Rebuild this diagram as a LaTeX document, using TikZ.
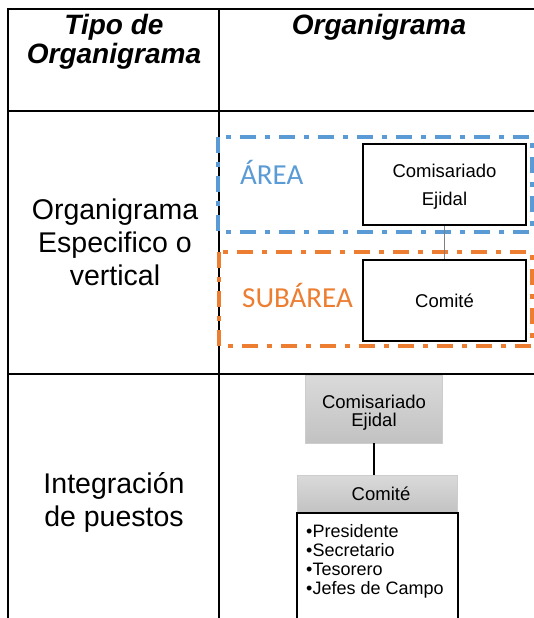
\documentclass[tikz,border=0pt]{standalone}
\usepackage{fontspec}
\setmainfont{Liberation Sans}
\newfontfamily\calfont{Carlito}
\definecolor{areablue}{RGB}{91,155,213}
\definecolor{areaorange}{RGB}{237,125,49}
\definecolor{gtop}{RGB}{218,218,218}
\definecolor{gbot}{RGB}{194,194,194}
\definecolor{gedge}{RGB}{205,205,205}
\definecolor{linkgray}{RGB}{128,128,128}
\newcommand{\hdrfont}{\fontsize{28}{28}\selectfont\bfseries\itshape}
\newcommand{\cellfont}{\fontsize{28.5}{33}\selectfont}
\begin{document}
\begin{tikzpicture}[x=1pt,y=-1pt,
  gridline/.style={line width=2pt,black},
  zone/.style={line width=3.5pt,dash pattern=on 16pt off 9pt on 5pt off 9pt},
  wbox/.style={draw=black,line width=1.3pt,inner sep=0pt,fill=white},
  gbox/.style={draw=gedge,line width=0.8pt,inner sep=0pt,top color=gtop,bottom color=gbot},
  lbl/.style={anchor=base,inner sep=0pt},
  lblw/.style={anchor=base west,inner sep=0pt}]
\useasboundingbox (0,0) rectangle (534,618);
% table grid
\draw[gridline] (8,618) -- (8,9) -- (534,9);
\draw[gridline] (219,9) -- (219,618);
\draw[gridline] (8,111) -- (534,111);
\draw[gridline] (8,374) -- (534,374);
% header
\node[lbl,font=\hdrfont] (h1) at (114,35) {\begin{tabular}[t]{@{}c@{}}Tipo de\\Organigrama\end{tabular}};
\node[lbl,font=\hdrfont] (h2) at (379,35) {Organigrama};
% row labels
\node[lbl,font=\cellfont] (r1) at (115,219) {\begin{tabular}[t]{@{}c@{}}Organigrama\\Especifico o\\vertical\end{tabular}};
\node[lbl,font=\cellfont] (r2) at (114,493) {\begin{tabular}[t]{@{}c@{}}Integración\\de puestos\end{tabular}};
% zones
\draw[zone,areablue] (218,137) rectangle (532,232);
\draw[zone,areaorange] (219,252) rectangle (532,346);
\node[lblw,font=\calfont\fontsize{29}{34}\selectfont,text=areablue] (za) at (240,184) {ÁREA};
\node[lblw,font=\calfont\fontsize{29}{34}\selectfont,text=areaorange] (zs) at (242,307) {SUBÁREA};
% vertical chart
\node[wbox,minimum width=163pt,minimum height=81pt] (ce1) at (444.5,184.5) {};
\node[wbox,minimum width=163pt,minimum height=81pt] (co1) at (444.5,300.5) {};
\draw[linkgray,line width=1.3pt] (ce1.south) -- (co1.north);
\node[lbl,font=\fontsize{18.5}{28}\selectfont] (ce1t) at (444.5,177) {\begin{tabular}[t]{@{}c@{}}Comisariado\\Ejidal\end{tabular}};
\node[lbl,font=\fontsize{18.5}{28}\selectfont] (co1t) at (444.5,307) {Comité};
% integration chart
\node[gbox,minimum width=137pt,minimum height=68pt] (ce2) at (374,409) {};
\node[gbox,minimum width=160pt,minimum height=38pt] (co2) at (377,494) {};
\draw[black,line width=1.3pt] (ce2.south) -- (ce2.south |- co2.north);
\draw[black,line width=1.5pt] (297,618) -- (297,513) -- (458,513) -- (458,618);
\node[lbl,font=\fontsize{18.5}{17}\selectfont] (ce2t) at (374,408) {\begin{tabular}[t]{@{}c@{}}Comisariado\\Ejidal\end{tabular}};
\node[lbl,font=\fontsize{18.5}{22}\selectfont] (co2t) at (381,500) {Comité};
\node[lblw,font=\fontsize{18}{19}\selectfont] (lst) at (306,537) {\begin{tabular}[t]{@{}l@{}}•Presidente\\•Secretario\\•Tesorero\\•Jefes de Campo\end{tabular}};
\end{tikzpicture}
\end{document}
